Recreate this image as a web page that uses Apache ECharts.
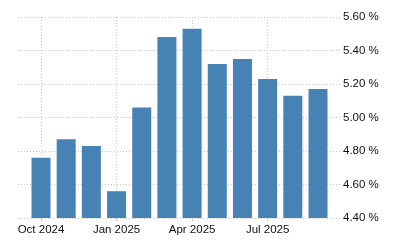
<!DOCTYPE html>
<html>
<head>
<meta charset="utf-8">
<script src="https://cdn.jsdelivr.net/npm/echarts@6/dist/echarts.min.js"></script>
<style>html,body{margin:0;padding:0;background:#fff}#c{width:400px;height:250px}</style>
</head>
<body>
<div id="c"></div>
<script>
var months = ['Oct 2024','Nov 2024','Dec 2024','Jan 2025','Feb 2025','Mar 2025','Apr 2025','May 2025','Jun 2025','Jul 2025','Aug 2025','Sep 2025'];
var values = [4.76, 4.87, 4.83, 4.56, 5.06, 5.48, 5.53, 5.32, 5.35, 5.23, 5.13, 5.17];
var xTickIdx = [0, 3, 6, 9];
var yTicks = [4.4, 4.6, 4.8, 5.0, 5.2, 5.4, 5.6];

var data = values.map(function(v, i){ return [i, v]; });
var gridLine = { show: true, lineStyle: { color: '#c8c8c8', type: [1, 2], width: 1 } };
var font = '"Liberation Sans", Arial, sans-serif';

var chart = echarts.init(document.getElementById('c'), null, { renderer: 'canvas' });
chart.setOption({
  animation: false,
  grid: { left: 18, right: 59, top: 17, bottom: 32, containLabel: false },
  xAxis: {
    type: 'value',
    min: -0.913,
    max: 11.913,
    axisLine: { show: false },
    axisTick: { show: true, length: 3, customValues: xTickIdx, lineStyle: { color: '#c8c8c8' } },
    splitLine: gridLine,
    axisLabel: {
      customValues: xTickIdx,
      formatter: function(v){ return months[Math.round(v)]; },
      color: '#111', fontSize: 11.5, fontFamily: font, margin: 6
    }
  },
  yAxis: {
    type: 'value',
    position: 'right',
    min: yTicks[0],
    max: yTicks[yTicks.length - 1],
    interval: 0.2,
    axisLine: { show: false },
    axisTick: { show: false },
    splitLine: gridLine,
    axisLabel: {
      formatter: function(v){ return v.toFixed(2) + ' %'; },
      color: '#111', fontSize: 11.5, fontFamily: font, margin: 2
    }
  },
  series: [{
    type: 'bar',
    data: data,
    barWidth: 19,
    itemStyle: { color: '#4682B4' }
  }]
});
</script>
</body>
</html>
